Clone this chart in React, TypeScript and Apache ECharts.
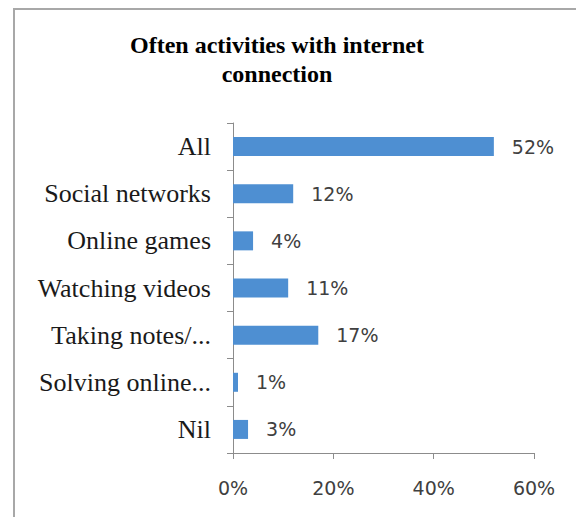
import React, { useEffect, useRef } from "react";
import * as echarts from "echarts";

const categories = [
  "All",
  "Social networks",
  "Online games",
  "Watching videos",
  "Taking notes/...",
  "Solving online...",
  "Nil",
];
const values = [52, 12, 4, 11, 17, 1, 3];
const titleText = "Often activities with internet\nconnection";
const axisMax = 60;
const axisInterval = 20;

export default function App() {
  const ref = useRef<HTMLDivElement>(null);
  useEffect(() => {
    if (!ref.current) return;
    const chart = echarts.init(ref.current, null, { renderer: "svg" });
    chart.setOption({
      animation: false,
      backgroundColor: "#ffffff",
      title: {
        text: titleText,
        left: 272,
        textAlign: "center",
        top: 25,
        textStyle: {
          fontFamily: "Liberation Serif",
          fontWeight: "bold",
          fontSize: 24,
          lineHeight: 29,
          color: "#000000",
        },
      },
      graphic: [
        {
          type: "rect",
          shape: { x: 14, y: 9, width: 700, height: 700 },
          style: { fill: "none", stroke: "#a8a8a8", lineWidth: 2 },
          silent: true,
        },
      ],
      grid: { left: 233, right: 42, top: 123, bottom: 64, containLabel: false },
      xAxis: {
        type: "value",
        min: 0,
        max: axisMax,
        interval: axisInterval,
        splitLine: { show: false },
        axisLine: { show: true, lineStyle: { color: "#8c8c8c", width: 1 } },
        axisTick: { show: true, length: 6, lineStyle: { color: "#8c8c8c" } },
        axisLabel: {
          formatter: (v: number) => v + "%",
          fontFamily: "DejaVu Sans",
          fontSize: 19,
          color: "#404040",
          margin: 25,
        },
      },
      yAxis: {
        type: "category",
        data: categories,
        inverse: true,
        axisLine: { show: true, lineStyle: { color: "#8c8c8c", width: 1 } },
        axisTick: { show: true, length: 6, lineStyle: { color: "#8c8c8c" } },
        axisLabel: {
          fontFamily: "Liberation Serif",
          fontSize: 26,
          color: "#1a1a1a",
          margin: 22,
        },
      },
      series: [
        {
          type: "bar",
          data: values,
          barWidth: 19,
          itemStyle: { color: "#4e8fd2" },
          label: {
            show: true,
            position: "right",
            distance: 18,
            formatter: (p: any) => p.value + "%",
            fontFamily: "DejaVu Sans",
            fontSize: 19,
            color: "#404040",
          },
        },
      ],
    });
    return () => chart.dispose();
  }, []);
  return (
    <div
      ref={ref}
      style={{ position: "absolute", left: 0, top: 0, width: 576, height: 517 }}
    />
  );
}
